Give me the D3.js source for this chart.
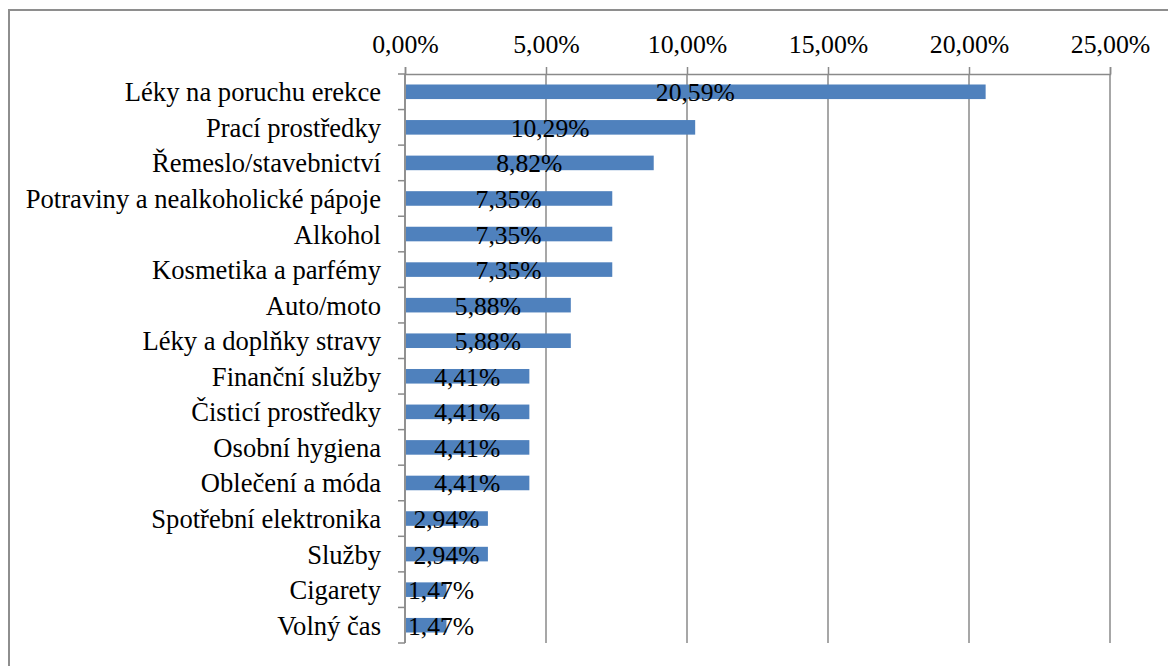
<!DOCTYPE html>
<html>
<head>
<meta charset="utf-8">
<style>
  body { margin: 0; background: #fff; }
</style>
</head>
<body>
<svg id="chart"></svg>
<script src="https://d3js.org/d3.v7.min.js"></script>
<script>
// chart values
var categories = ["Léky na poruchu erekce", "Prací prostředky", "Řemeslo/stavebnictví",
  "Potraviny a nealkoholické pápoje", "Alkohol", "Kosmetika a parfémy", "Auto/moto",
  "Léky a doplňky stravy", "Finanční služby", "Čisticí prostředky", "Osobní hygiena",
  "Oblečení a móda", "Spotřební elektronika", "Služby", "Cigarety", "Volný čas"]
var values = [20.59, 10.29, 8.82, 7.35, 7.35, 7.35, 5.88, 5.88, 4.41, 4.41, 4.41, 4.41, 2.94, 2.94, 1.47, 1.47]
var tickValues = [0, 5, 10, 15, 20, 25]

var width = 1168, height = 666
// plot area edges (window.top is reserved, so use other names)
var plotL = 405, plotR = 1110, plotT = 74, plotB = 643
var serif = "'Liberation Serif'"

var svg = d3.select('#chart').attr('width', width).attr('height', height)

// outer frame (cut off at right and bottom like the source)
svg.append('rect')
  .attr('x', 9).attr('y', 10).attr('width', 1170).attr('height', 680)
  .attr('fill', 'none').attr('stroke', '#8e8e8e').attr('stroke-width', 2)

var x = d3.scaleLinear().domain([0, 25]).range([plotL, plotR])
var y = d3.scaleBand().domain(categories).range([plotT, plotB])

function fmt(v) { return v.toFixed(2).replace('.', ',') + '%' }

// vertical gridlines
svg.append('g').selectAll('line').data(tickValues).enter().append('line')
  .attr('x1', function(d) { return x(d) }).attr('x2', function(d) { return x(d) })
  .attr('y1', plotT).attr('y2', plotB)
  .attr('stroke', '#8a8a8a').attr('stroke-width', 1.5)

// top axis
var xAxis = d3.axisTop(x).tickValues(tickValues).tickSize(7).tickPadding(14).tickFormat(fmt)
var gx = svg.append('g').attr('transform', 'translate(0,' + plotT + ')').call(xAxis)
gx.attr('font-family', serif).attr('font-size', 25.8)
gx.select('.domain').attr('stroke', '#8a8a8a').attr('stroke-width', 1.5)
gx.selectAll('.tick line').attr('stroke', '#8a8a8a').attr('stroke-width', 1.5)
gx.selectAll('.tick text').attr('fill', '#000').style('font-family', serif)

// left axis: ticks at band boundaries
var bounds = categories.map(function(c) { return y(c) }).concat([plotB])
svg.append('line').attr('x1', plotL).attr('x2', plotL).attr('y1', plotT).attr('y2', plotB)
  .attr('stroke', '#8a8a8a').attr('stroke-width', 1.5)
svg.append('g').selectAll('line').data(bounds).enter().append('line')
  .attr('x1', plotL - 7).attr('x2', plotL)
  .attr('y1', function(d) { return d }).attr('y2', function(d) { return d })
  .attr('stroke', '#8a8a8a').attr('stroke-width', 1.5)

// category labels
svg.append('g').selectAll('text').data(categories).enter().append('text')
  .attr('font-family', serif).style('font-family', serif).attr('font-size', 26.6)
  .attr('x', plotL - 24)
  .attr('y', function(d) { return y(d) + y.bandwidth() / 2 + 9.5 })
  .attr('text-anchor', 'end')
  .text(function(d) { return d })

// bars
var barH = y.bandwidth() * 0.41
svg.append('g').selectAll('rect').data(values).enter().append('rect')
  .attr('x', x(0) + 1)
  .attr('y', function(d, i) { return y(categories[i]) + (y.bandwidth() - barH) / 2 })
  .attr('width', function(d) { return x(d) - x(0) - 1 })
  .attr('height', barH)
  .attr('fill', '#4f81bd')

// data labels centred on bars, kept clear of the axis
var labels = svg.append('g').selectAll('text').data(values).enter().append('text')
  .attr('font-family', serif).style('font-family', serif).attr('font-size', 25.6)
  .attr('y', function(d, i) { return y(categories[i]) + y.bandwidth() / 2 + 9.5 })
  .attr('text-anchor', 'middle')
  .text(function(d) { return fmt(d) })
labels.attr('x', function(d) {
  var w = this.getComputedTextLength()
  return Math.max((x(0) + x(d)) / 2, plotL + 3 + w / 2)
})
</script>
</body>
</html>
